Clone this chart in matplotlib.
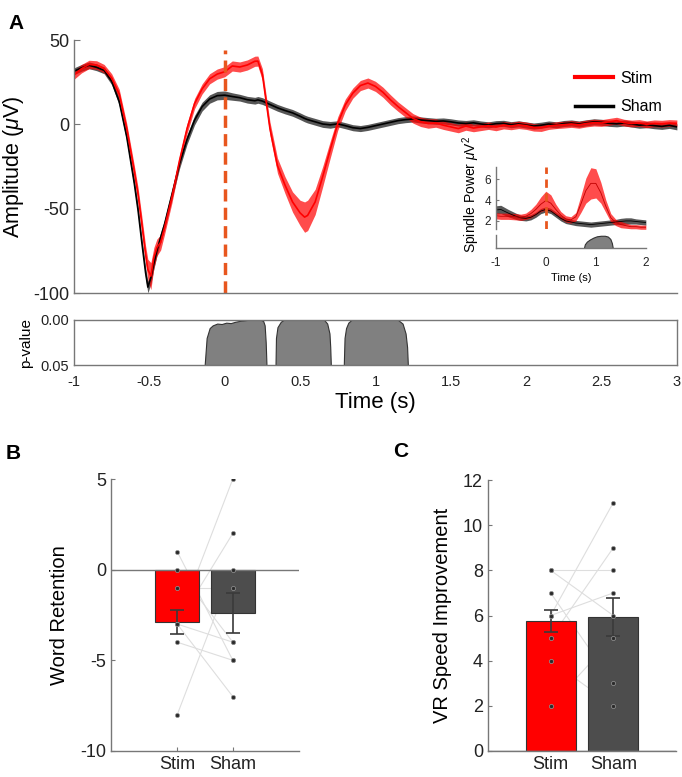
import numpy as np
import matplotlib
matplotlib.use('Agg')
import matplotlib.pyplot as plt
from matplotlib.lines import Line2D

plt.rcParams['font.family'] = ['Liberation Sans', 'DejaVu Sans']
plt.rcParams['mathtext.fontset'] = 'custom'
plt.rcParams['mathtext.rm'] = 'Liberation Sans'
plt.rcParams['mathtext.it'] = 'Liberation Sans:italic'
plt.rcParams['axes.unicode_minus'] = False

# ---- panel A: evoked response (uV) ----
t_erp = [-1.0, -0.95, -0.9, -0.85, -0.8, -0.75, -0.7, -0.65, -0.6, -0.575,
         -0.55, -0.525, -0.51, -0.49, -0.47, -0.45, -0.425, -0.4, -0.35, -0.3,
         -0.25, -0.2, -0.15, -0.1, -0.05, 0.0, 0.05, 0.1, 0.15, 0.2,
         0.22, 0.25, 0.3, 0.35, 0.4, 0.45, 0.5, 0.53, 0.55, 0.6,
         0.65, 0.7, 0.75, 0.8, 0.85, 0.9, 0.95, 1.0, 1.05, 1.1,
         1.15, 1.2, 1.25, 1.3, 1.35, 1.4, 1.45, 1.5, 1.55, 1.6,
         1.65, 1.7, 1.75, 1.8, 1.85, 1.9, 1.95, 2.0, 2.05, 2.1,
         2.15, 2.2, 2.25, 2.3, 2.35, 2.4, 2.45, 2.5, 2.55, 2.6,
         2.65, 2.7, 2.75, 2.8, 2.85, 2.9, 2.95, 3.0]
sham_erp = [31.5, 33.5, 35.0, 33.8, 32.0, 25.5, 13.5, -7.5, -35.0, -51.0,
            -70.0, -88.0, -96.5, -91.0, -82.5, -75.0, -67.0, -59.5, -41.5, -23.5,
            -9.0, 2.5, 10.5, 15.0, 17.0, 17.3, 16.5, 15.8, 14.6, 14.0,
            14.5, 13.8, 11.8, 9.8, 8.2, 6.8, 4.8, 3.5, 2.8, 1.5,
            0.2, -0.3, 0.3, -0.8, -2.0, -2.5, -1.8, -0.8, 0.2, 1.2,
            2.2, 2.8, 3.2, 2.6, 2.2, 1.8, 2.0, 1.5, 0.8, 0.5,
            0.9, 0.2, -0.3, 0.4, 0.6, -0.2, 0.3, -0.4, -1.0, -0.5,
            0.2, -0.3, 0.5, 0.8, 0.2, 0.9, 1.5, 1.2, 0.6, 0.3,
            0.8, 0.2, -0.5, -0.2, -0.8, -1.2, -0.6, -1.5]
stim_erp = [29.2, 33.0, 35.5, 35.2, 33.0, 27.5, 18.0, -2.5, -27.8, -41.5,
            -59.0, -77.0, -86.0, -90.0, -79.0, -73.0, -70.0, -61.5, -43.0, -21.5,
            -2.5, 12.3, 21.0, 27.0, 29.8, 31.2, 34.6, 34.0, 35.2, 37.4,
            37.5, 29.5, -2.5, -24.5, -36.0, -46.0, -52.5, -55.0, -54.0, -46.0,
            -31.0, -15.0, 0.5, 11.5, 18.5, 23.0, 24.5, 22.5, 19.0, 14.5,
            10.5, 7.0, 3.5, 1.5, 0.5, 0.8, -0.5, -1.5, -2.5, -1.0,
            -2.2, -1.5, -0.8, -1.6, -0.5, -1.0, -0.3, -0.8, -1.8, -2.0,
            -1.0, -0.5, -0.2, 0.2, -0.3, 0.5, 1.0, 0.8, 1.5, 2.2,
            1.0, 0.5, 0.8, 0.0, 0.6, 0.4, 0.8, 0.6]
sham_sem = [2.0, 2.0, 2.0, 2.0, 2.0, 2.0, 2.2, 2.5, 2.8, 3.0,
            3.0, 3.2, 3.5, 3.5, 3.2, 3.0, 3.0, 2.8, 2.8, 2.8,
            2.8, 2.8, 2.6, 2.5, 2.5, 2.5, 2.2, 2.0, 2.0, 2.0,
            2.0, 2.0, 2.0, 2.0, 2.0, 2.0, 2.0, 2.0, 2.0, 2.0,
            2.0, 2.0, 1.8, 1.8, 1.8, 1.8, 1.8, 1.8, 1.8, 1.8,
            1.8, 1.8, 1.8, 1.8, 1.8, 1.8, 1.8, 1.8, 1.8, 1.8,
            1.8, 1.8, 1.8, 1.8, 1.8, 1.8, 1.8, 1.8, 1.8, 1.8,
            1.8, 1.8, 1.8, 1.8, 1.8, 1.8, 1.8, 1.8, 1.8, 1.8,
            1.8, 1.8, 1.8, 1.8, 1.8, 1.8, 1.8, 1.8]
stim_sem = [2.5, 2.5, 2.5, 2.5, 2.5, 2.5, 2.8, 3.0, 3.5, 4.0,
            4.5, 5.0, 6.0, 8.0, 6.0, 5.0, 4.5, 4.0, 3.5, 3.0,
            3.0, 3.0, 3.0, 3.0, 3.0, 3.0, 3.0, 3.0, 3.0, 3.0,
            3.0, 3.5, 4.0, 4.5, 5.0, 6.0, 7.5, 9.0, 9.0, 7.5,
            6.0, 5.0, 4.0, 3.5, 3.0, 3.0, 3.0, 3.0, 3.0, 3.0,
            2.8, 2.8, 2.8, 2.8, 2.8, 2.5, 2.5, 2.5, 2.5, 2.5,
            2.2, 2.2, 2.2, 2.2, 2.2, 2.2, 2.2, 2.2, 2.2, 2.2,
            2.0, 2.0, 2.0, 2.0, 2.0, 2.0, 2.0, 2.0, 2.0, 2.0,
            2.0, 2.0, 2.0, 2.0, 2.0, 2.0, 2.0, 2.0]

# significant clusters (p-value strip)
pv_t1 = [-0.133, -0.12, -0.1, -0.08, -0.05, -0.02, 0.01, 0.04, 0.07, 0.1, 0.15, 0.24, 0.255, 0.265, 0.272, 0.277]
pv_p1 = [0.05, 0.02, 0.009, 0.006, 0.004, 0.0045, 0.003, 0.0035, 0.002, 0.001, 0.0, 0.0, 0.001, 0.006, 0.025, 0.05]
pv_t2 = [0.337, 0.34, 0.35, 0.372, 0.39, 0.66, 0.68, 0.695, 0.7, 0.704]
pv_p2 = [0.05, 0.02, 0.008, 0.002, 0.0, 0.0, 0.004, 0.015, 0.03, 0.05]
pv_t3 = [0.79, 0.795, 0.805, 0.82, 0.84, 1.15, 1.18, 1.2, 1.21, 1.215]
pv_p3 = [0.05, 0.02, 0.009, 0.003, 0.0, 0.0, 0.004, 0.015, 0.03, 0.05]

# inset: spindle power
t_sp = [-1.0, -0.9, -0.75, -0.6, -0.5, -0.4, -0.3, -0.2, -0.1, 0.0,
        0.1, 0.2, 0.3, 0.4, 0.5, 0.6, 0.7, 0.8, 0.9, 1.0,
        1.1, 1.2, 1.3, 1.4, 1.5, 1.6, 1.7, 1.8, 1.9, 2.0]
sham_sp = [3.05, 3.1, 2.75, 2.45, 2.3, 2.25, 2.35, 2.6, 2.95, 3.1,
           2.95, 2.6, 2.25, 2.0, 1.9, 1.8, 1.75, 1.7, 1.65, 1.7,
           1.75, 1.8, 1.85, 1.9, 1.95, 2.0, 2.0, 1.95, 1.9, 1.85]
sham_sp_sem = [0.4, 0.4, 0.35, 0.3, 0.25, 0.25, 0.25, 0.25, 0.25, 0.25,
               0.25, 0.25, 0.25, 0.25, 0.25, 0.25, 0.25, 0.25, 0.25, 0.25,
               0.25, 0.25, 0.25, 0.25, 0.3, 0.3, 0.3, 0.25, 0.25, 0.25]
stim_sp = [2.5, 2.45, 2.45, 2.4, 2.35, 2.45, 2.7, 3.1, 3.6, 3.95,
           3.7, 3.1, 2.55, 2.2, 2.1, 2.4, 3.6, 4.9, 5.6, 5.6,
           4.7, 3.4, 2.3, 1.85, 1.65, 1.55, 1.45, 1.45, 1.4, 1.4]
stim_sp_sem = [0.3, 0.3, 0.3, 0.3, 0.3, 0.3, 0.4, 0.5, 0.7, 0.9,
               0.8, 0.5, 0.35, 0.3, 0.3, 0.4, 0.8, 1.2, 1.5, 1.4,
               1.0, 0.6, 0.4, 0.3, 0.3, 0.25, 0.2, 0.2, 0.2, 0.2]
sp_pv_t = [0.76, 0.78, 0.82, 0.88, 0.95, 1.02, 1.1, 1.18, 1.24, 1.29, 1.32, 1.34]
sp_pv_p = [0.05, 0.035, 0.025, 0.017, 0.01, 0.005, 0.003, 0.003, 0.006, 0.015, 0.03, 0.05]

# ---- panels B and C ----
groups = ['Stim', 'Sham']
word_mean = [-2.9, -2.4]
word_sem = [0.66, 1.1]
word_stim = [1, 0, -1, -3, -3, -3, -3, -4, -8]
word_sham = [-5, -4, -1, 5, 2, -7, -4, -5, 0]
vr_mean = [5.76, 5.92]
vr_sem = [0.49, 0.85]
vr_stim = [8, 8, 7, 6, 6, 5, 4, 2]
vr_sham = [8, 6, 3, 11, 7, 9, 2, 5]

RED = '#ff0000'
DARK = '#4d4d4d'
AXC = '#777777'
ORANGE = '#e8561e'

fig = plt.figure(figsize=(6.82, 7.77), dpi=100)


def style(ax, sides=('left', 'bottom')):
    for s in ['left', 'right', 'top', 'bottom']:
        ax.spines[s].set_visible(s in sides)
        ax.spines[s].set_color(AXC)
        ax.spines[s].set_linewidth(1.0)
    ax.tick_params(direction='in', color=AXC, length=4, width=0.8, labelcolor='#222222')


# main ERP axes
ax = fig.add_axes([0.1085, 0.6229, 0.884, 0.3256])
style(ax)
t = np.array(t_erp)
ax.fill_between(t, np.array(sham_erp) - sham_sem, np.array(sham_erp) + sham_sem,
                color='#3a3a3a', alpha=0.85, lw=0)
ax.plot(t, sham_erp, color='black', lw=1.2)
ax.fill_between(t, np.array(stim_erp) - stim_sem, np.array(stim_erp) + stim_sem,
                color=RED, alpha=0.7, lw=0)
ax.plot(t, stim_erp, color=RED, lw=1.2)
ax.plot([0, 0], [-100, 44], color=ORANGE, lw=2.5, ls=(0, (3.5, 1.8)))
ax.set_xlim(-1, 3)
ax.set_ylim(-100, 50)
ax.set_xticks([])
ax.set_yticks([50, 0, -50, -100])
ax.tick_params(axis='y', labelsize=13)
ax.set_ylabel(r'Amplitude ($\mu$V)', fontsize=15.5)
ax.yaxis.set_label_coords(-0.079, 0.5)
handles = [Line2D([], [], color=RED, lw=3), Line2D([], [], color='black', lw=2.5)]
ax.legend(handles, groups, loc='upper left', bbox_to_anchor=(0.818, 0.91), frameon=False,
          fontsize=11.5, handlelength=2.4, labelspacing=0.85, borderpad=0, handletextpad=0.4)
fig.text(0.012, 0.982, 'A', fontsize=15, fontweight='bold', va='top')

# p-value strip
axp = fig.add_axes([0.1085, 0.5302, 0.884, 0.058])
style(axp, sides=('left', 'bottom', 'right', 'top'))
for tt, pp in [(pv_t1, pv_p1), (pv_t2, pv_p2), (pv_t3, pv_p3)]:
    axp.fill_between(tt, 0.05, pp, facecolor='#808080', edgecolor='#333333', lw=0.8)
axp.set_xlim(-1, 3)
axp.set_ylim(0.05, 0)
axp.set_yticks([0, 0.05])
axp.set_yticklabels(['0.00', '0.05'])
axp.set_xticks([-1, -0.5, 0, 0.5, 1, 1.5, 2, 2.5, 3])
axp.set_xticklabels(['-1', '-0.5', '0', '0.5', '1', '1.5', '2', '2.5', '3'])
axp.tick_params(labelsize=10.5, length=0)
axp.tick_params(axis='x', pad=7)
axp.set_ylabel('p-value', fontsize=11)
axp.yaxis.set_label_coords(-0.068, 0.5)
axp.set_xlabel('Time (s)', fontsize=16, labelpad=2)

# inset spindle power
axi = fig.add_axes([0.727, 0.7049, 0.220, 0.0806])
style(axi, sides=('left',))
axi.patch.set_alpha(0)
ts = np.array(t_sp)
axi.fill_between(ts, np.array(sham_sp) - sham_sp_sem, np.array(sham_sp) + sham_sp_sem,
                 color='#3a3a3a', alpha=0.85, lw=0)
axi.plot(ts, sham_sp, color='black', lw=0.6)
axi.fill_between(ts, np.array(stim_sp) - stim_sp_sem, np.array(stim_sp) + stim_sp_sem,
                 color=RED, alpha=0.7, lw=0)
axi.plot(ts, stim_sp, color='#c00000', lw=0.6)
axi.plot([0, 0], [1.2, 7.2], color=ORANGE, lw=2, ls=(0, (3, 2)))
axi.set_xlim(-1, 2)
axi.set_ylim(1.2, 7.2)
axi.set_xticks([])
axi.set_yticks([2, 4, 6])
axi.tick_params(labelsize=8.5, length=2)
axi.set_ylabel(r'Spindle Power $\mu$V$^2$', fontsize=10)
axi.yaxis.set_label_coords(-0.095, 0.55)

axip = fig.add_axes([0.727, 0.6804, 0.220, 0.0172])
style(axip)
axip.patch.set_alpha(0)
axip.fill_between(sp_pv_t, 0.05, sp_pv_p, facecolor='#808080', edgecolor='#333333', lw=0.8)
axip.set_xlim(-1, 2)
axip.set_ylim(0.05, 0)
axip.set_yticks([])
axip.set_xticks([-1, 0, 1, 2])
axip.tick_params(labelsize=8.5, length=0, pad=6)
axip.set_xlabel('Time (s)', fontsize=8, labelpad=3)


def bar_panel(ax, means, sems, stim_pts, sham_pts, ylim, yticks, ylabel, xlim, labx):
    style(ax)
    x = [1, 2]
    for a, b in zip(stim_pts, sham_pts):
        ax.plot([1, 2], [a, b], color='#dedede', lw=0.8, zorder=1)
    ax.bar(x, means, width=0.8, color=[RED, DARK], edgecolor='#333333', lw=0.8, zorder=2)
    ax.errorbar(x, means, yerr=sems, fmt='none', ecolor='#3a3a3a', elinewidth=1.2,
                capsize=5, capthick=1.2, zorder=3)
    ax.plot([1] * len(stim_pts), stim_pts, 'o', ms=3, mfc='#2b2b2b', mec='#999999', mew=0.5, zorder=4)
    ax.plot([2] * len(sham_pts), sham_pts, 'o', ms=3, mfc='#2b2b2b', mec='#999999', mew=0.5, zorder=4)
    ax.axhline(0, color=AXC, lw=1.0, zorder=2.5)
    ax.set_xlim(*xlim)
    ax.set_ylim(*ylim)
    ax.set_yticks(yticks)
    ax.set_xticks(x)
    ax.set_xticklabels(groups)
    ax.tick_params(labelsize=13, length=3)
    ax.set_ylabel(ylabel, fontsize=14.5)
    ax.yaxis.set_label_coords(labx, 0.5)


axb = fig.add_axes([0.1628, 0.0335, 0.2756, 0.35])
bar_panel(axb, word_mean, word_sem, word_stim, word_sham, (-10, 5), [5, 0, -5, -10],
          'Word Retention', (-0.19, 3.19), -0.225)
fig.text(0.008, 0.428, 'B', fontsize=15, fontweight='bold', va='top')

axc = fig.add_axes([0.7155, 0.0335, 0.2757, 0.3487])
bar_panel(axc, vr_mean, vr_sem, vr_stim, vr_sham, (0, 12), [0, 2, 4, 6, 8, 10, 12],
          'VR Speed Improvement', (0, 3), -0.19)
fig.text(0.577, 0.431, 'C', fontsize=15, fontweight='bold', va='top')

fig.savefig('out.png', dpi=100)
